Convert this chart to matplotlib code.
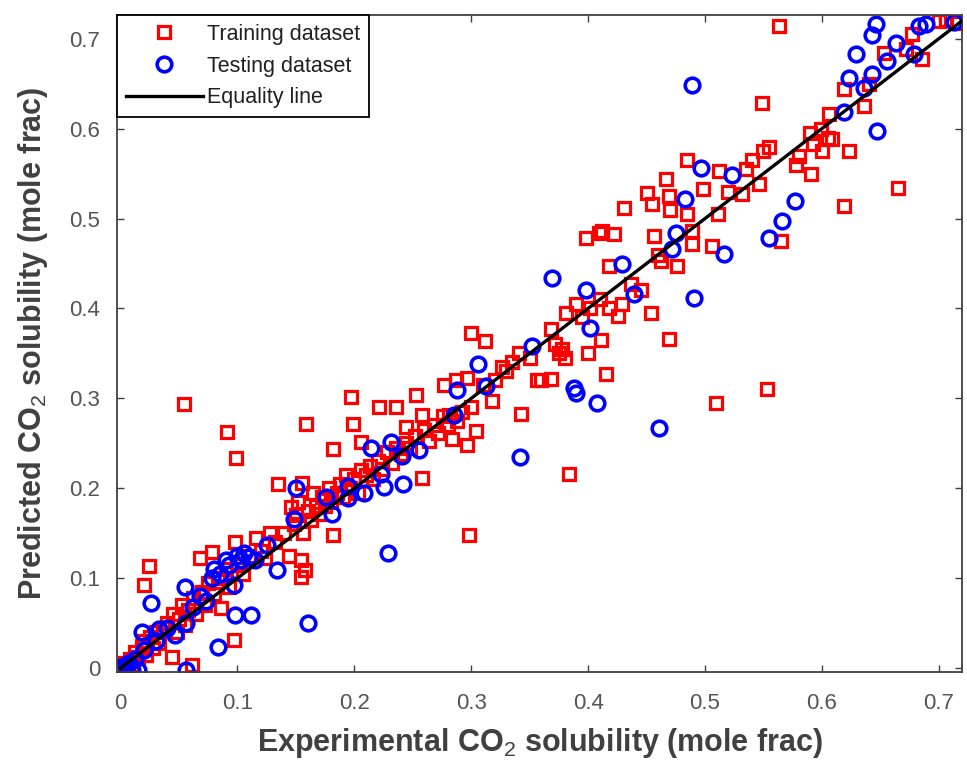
import numpy as np
import matplotlib
matplotlib.use("Agg")
import matplotlib.pyplot as plt

plt.rcParams['font.family'] = ['Liberation Sans', 'DejaVu Sans']
plt.rcParams['mathtext.fontset'] = 'custom'
plt.rcParams['mathtext.rm'] = 'Liberation Sans'
plt.rcParams['mathtext.default'] = 'rm'

# training dataset (experimental, predicted)
train = [
    (0.000, 0.002), (0.004, 0.006), (0.008, 0.010), (0.010, 0.004), (0.012, 0.018),
    (0.015, 0.012), (0.018, 0.025), (0.020, 0.030), (0.022, 0.015), (0.025, 0.035),
    (0.028, 0.022), (0.030, 0.040), (0.033, 0.028), (0.036, 0.045), (0.040, 0.050),
    (0.044, 0.012), (0.045, 0.060), (0.048, 0.040), (0.050, 0.055), (0.053, 0.070),
    (0.055, 0.048), (0.058, 0.065), (0.061, 0.003), (0.062, 0.078), (0.065, 0.060),
    (0.068, 0.123), (0.070, 0.085), (0.072, 0.070), (0.075, 0.095), (0.078, 0.129),
    (0.080, 0.082), (0.083, 0.100), (0.086, 0.067), (0.090, 0.110), (0.093, 0.090),
    (0.097, 0.031), (0.098, 0.140), (0.100, 0.115), (0.105, 0.105), (0.110, 0.125),
    (0.116, 0.145), (0.120, 0.130), (0.124, 0.122), (0.128, 0.150), (0.132, 0.140),
    (0.135, 0.205), (0.140, 0.150), (0.144, 0.125), (0.146, 0.179), (0.148, 0.160),
    (0.150, 0.170), (0.152, 0.185), (0.154, 0.120), (0.155, 0.206), (0.156, 0.150),
    (0.158, 0.109), (0.154, 0.101), (0.160, 0.175), (0.163, 0.165), (0.165, 0.195),
    (0.167, 0.180), (0.170, 0.172), (0.172, 0.190), (0.175, 0.180), (0.178, 0.200),
    (0.180, 0.185), (0.182, 0.148), (0.185, 0.195), (0.188, 0.205), (0.190, 0.190),
    (0.193, 0.215), (0.196, 0.200), (0.200, 0.210), (0.203, 0.195), (0.206, 0.220),
    (0.210, 0.215), (0.213, 0.225), (0.216, 0.210), (0.220, 0.230), (0.224, 0.222),
    (0.228, 0.240), (0.232, 0.228), (0.236, 0.245), (0.240, 0.238), (0.244, 0.250),
    (0.248, 0.245), (0.252, 0.258), (0.258, 0.212), (0.260, 0.265), (0.264, 0.253),
    (0.268, 0.270), (0.272, 0.262), (0.276, 0.280), (0.280, 0.270), (0.284, 0.255),
    (0.288, 0.275), (0.292, 0.285), (0.296, 0.248), (0.300, 0.290), (0.304, 0.264),
    (0.298, 0.148),
    (0.020, 0.092), (0.024, 0.114), (0.054, 0.294), (0.091, 0.263), (0.099, 0.234),
    (0.159, 0.272), (0.182, 0.244), (0.197, 0.302), (0.199, 0.271), (0.206, 0.251),
    (0.221, 0.290), (0.236, 0.290), (0.244, 0.268), (0.253, 0.304), (0.258, 0.281),
    (0.277, 0.315), (0.287, 0.320), (0.296, 0.323), (0.281, 0.281), (0.300, 0.373),
    (0.312, 0.364), (0.318, 0.297), (0.326, 0.335), (0.341, 0.350), (0.343, 0.283),
    (0.310, 0.315), (0.320, 0.320), (0.330, 0.330), (0.335, 0.340), (0.350, 0.345),
    (0.356, 0.320), (0.360, 0.321), (0.368, 0.322), (0.368, 0.377), (0.372, 0.360),
    (0.375, 0.350), (0.378, 0.355), (0.380, 0.345), (0.381, 0.395), (0.384, 0.216),
    (0.390, 0.405), (0.395, 0.390), (0.398, 0.478), (0.400, 0.350), (0.402, 0.400),
    (0.409, 0.484), (0.410, 0.410), (0.411, 0.365), (0.412, 0.486), (0.415, 0.327),
    (0.418, 0.447), (0.418, 0.400), (0.422, 0.483), (0.426, 0.392), (0.429, 0.405),
    (0.431, 0.512), (0.437, 0.427), (0.445, 0.420), (0.450, 0.528), (0.454, 0.395),
    (0.455, 0.516), (0.456, 0.481), (0.460, 0.460), (0.462, 0.453), (0.467, 0.544),
    (0.469, 0.525), (0.469, 0.366), (0.470, 0.510), (0.476, 0.447), (0.485, 0.565),
    (0.485, 0.505), (0.489, 0.486), (0.489, 0.472), (0.498, 0.533), (0.506, 0.469),
    (0.509, 0.295), (0.511, 0.505), (0.512, 0.553), (0.520, 0.530), (0.532, 0.527),
    (0.535, 0.555), (0.540, 0.565), (0.546, 0.538), (0.550, 0.575), (0.549, 0.628),
    (0.553, 0.310), (0.555, 0.580), (0.563, 0.714), (0.565, 0.475), (0.578, 0.560),
    (0.580, 0.570), (0.591, 0.549), (0.592, 0.583), (0.590, 0.595), (0.599, 0.600),
    (0.600, 0.575), (0.605, 0.590), (0.606, 0.616), (0.609, 0.589), (0.619, 0.514),
    (0.619, 0.644), (0.623, 0.575), (0.636, 0.625), (0.640, 0.650), (0.653, 0.684),
    (0.665, 0.534), (0.672, 0.689), (0.677, 0.705), (0.686, 0.677), (0.700, 0.720),
    (0.706, 0.721), (0.716, 0.718),
]

# testing dataset (experimental, predicted)
test = [
    (0.000, 0.001), (0.005, 0.004), (0.007, 0.006), (0.010, -0.002), (0.015, -0.002),
    (0.012, 0.010), (0.018, 0.040), (0.020, 0.020), (0.026, 0.073), (0.030, 0.030),
    (0.033, 0.044), (0.040, 0.045), (0.047, 0.037), (0.055, 0.090), (0.056, 0.050),
    (0.056, -0.002), (0.062, 0.068), (0.068, 0.080), (0.073, 0.075), (0.078, 0.100),
    (0.080, 0.110), (0.083, 0.024), (0.085, 0.105), (0.090, 0.120), (0.093, 0.115),
    (0.097, 0.092), (0.098, 0.059), (0.100, 0.125), (0.103, 0.120), (0.106, 0.128),
    (0.110, 0.124), (0.112, 0.059), (0.115, 0.120), (0.125, 0.137), (0.134, 0.109),
    (0.148, 0.166), (0.150, 0.200), (0.160, 0.050), (0.176, 0.190), (0.181, 0.172),
    (0.195, 0.203), (0.195, 0.189), (0.208, 0.195), (0.214, 0.245), (0.223, 0.216),
    (0.225, 0.201), (0.229, 0.128), (0.231, 0.251), (0.241, 0.236), (0.242, 0.205),
    (0.255, 0.243), (0.285, 0.281), (0.288, 0.309), (0.306, 0.338), (0.313, 0.314),
    (0.342, 0.235), (0.352, 0.358), (0.369, 0.434), (0.388, 0.312), (0.390, 0.306),
    (0.398, 0.420), (0.402, 0.378), (0.408, 0.295), (0.429, 0.450), (0.439, 0.416),
    (0.461, 0.267), (0.472, 0.466), (0.475, 0.484), (0.483, 0.522), (0.489, 0.649),
    (0.491, 0.412), (0.497, 0.556), (0.516, 0.461), (0.523, 0.548), (0.555, 0.478),
    (0.566, 0.497), (0.577, 0.519), (0.619, 0.619), (0.623, 0.656), (0.629, 0.683),
    (0.636, 0.645), (0.643, 0.661), (0.643, 0.704), (0.646, 0.716), (0.647, 0.597),
    (0.656, 0.675), (0.663, 0.695), (0.679, 0.683), (0.683, 0.714), (0.689, 0.716),
    (0.713, 0.719),
]

eq_line = [0.0, 0.72]
ticks = [0, 0.1, 0.2, 0.3, 0.4, 0.5, 0.6, 0.7]
tick_labels = ['0', '0.1', '0.2', '0.3', '0.4', '0.5', '0.6', '0.7']

train = np.array(train)
test = np.array(test)

fig = plt.figure(figsize=(9.67, 7.66), dpi=100)
ax = fig.add_axes([0.121, 0.123, 0.874, 0.857])

ax.plot(train[:, 0], train[:, 1], 's', mfc='none', mec='#ff0000', ms=8, mew=2.3,
        label='Training dataset')
ax.plot(test[:, 0], test[:, 1], 'o', mfc='none', mec='#0000ff', ms=10.5, mew=2.6,
        label='Testing dataset')
ax.plot(eq_line, eq_line, '-', color='black', lw=2.4, label='Equality line', zorder=5)

ax.set_xlim(-0.003, 0.72)
ax.set_ylim(-0.004, 0.726)
ax.set_xticks(ticks)
ax.set_xticklabels(tick_labels)
ax.set_yticks(ticks)
ax.set_yticklabels(tick_labels)
ax.tick_params(direction='in', top=True, right=True, length=5, width=1,
               labelsize=16, labelcolor='#555555', color='#404040')
ax.tick_params(axis='x', pad=15)
ax.tick_params(axis='y', pad=12)
for s in ax.spines.values():
    s.set_color('#404040')
    s.set_linewidth(1.3)

ax.set_xlabel('Experimental CO$_2$ solubility (mole frac)', fontsize=22,
              fontweight='bold', color='#404040', labelpad=9)
ax.set_ylabel('Predicted CO$_2$ solubility (mole frac)', fontsize=22,
              fontweight='bold', color='#404040', labelpad=14)

leg = ax.legend(loc='upper left', borderaxespad=0, fancybox=False, edgecolor='black',
                framealpha=1, fontsize=15.5, handlelength=3.6, handletextpad=0.2,
                labelspacing=0.5, borderpad=0.4)
leg.get_frame().set_linewidth(1.3)
for t in leg.get_texts():
    t.set_color('#202020')

fig.savefig('out.png', dpi=100)
